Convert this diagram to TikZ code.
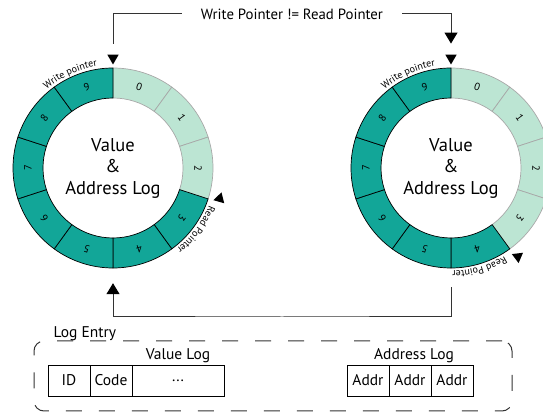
\documentclass[tikz,border=0pt]{standalone}
\usepackage{fontspec}
\setmainfont{PT Sans}
\usepackage{tikz}
\usetikzlibrary{positioning,arrows.meta,shapes.geometric,calc,decorations.text}
\definecolor{logteal}{HTML}{12A698}
\definecolor{logmint}{HTML}{BCE5D3}
\definecolor{logedge}{HTML}{A8A8A8}
\definecolor{logwire}{HTML}{333333}

\begin{document}
\begin{tikzpicture}[x=1pt,y=1pt,
  dark/.style={fill=logteal,draw=black,line width=0.7pt},
  lite/.style={fill=logmint,draw=logedge,line width=0.7pt},
  digit/.style={font=\fontsize{10.5}{10.5}\selectfont,inner sep=0pt},
  ring/.style={circle,minimum size=200pt,inner sep=0pt,align=center,font=\fontsize{18.5}{21.5}\selectfont},
  ptr/.style={regular polygon,regular polygon sides=3,fill=black,inner sep=0pt,minimum size=13pt},
  link/.style={draw=logwire,line width=1pt},
  tip/.style={-{Triangle[width=13pt,length=11pt,color=black]}},
  lbl/.style={font=\fontsize{15.5}{15.5}\selectfont,inner sep=1pt},
  cell/.style={draw=black,line width=0.8pt,minimum height=31pt,minimum width=42pt,inner sep=0pt,outer sep=0pt,font=\fontsize{15.5}{15.5}\selectfont},
  entry/.style={draw=logwire,line width=1pt,dash pattern=on 16pt off 17pt,rounded corners=10pt,minimum width=478pt,minimum height=70pt},
  arclbl/.style={decorate,decoration={text along path,text align=center,text={|\fontsize{10}{10}\selectfont|#1}}}
]
\useasboundingbox (0,0) rectangle (543,414);
\clip (0,0) rectangle (543,414);

\node[ring] (ringL) at (113,246) {Value\\\&\\Address Log};
\node[ring] (ringR) at (451,246) {Value\\\&\\Address Log};

\foreach \r/\n in {ringL/3,ringR/4}{
  \begin{scope}[shift={(\r.center)}]
    \foreach \i in {0,...,9}{
      \pgfmathsetmacro\a{90-36*\i}
      \pgfmathsetmacro\b{54-36*\i}
      \pgfmathsetmacro\m{72-36*\i}
      \ifnum\i<\n \def\seg{lite}\else\def\seg{dark}\fi
      \filldraw[\seg] (\a:70) -- (\a:100) arc[start angle=\a,end angle=\b,radius=100] -- (\b:70) arc[start angle=\b,end angle=\a,radius=70] -- cycle;
      \node[digit,rotate=\m-90] (\r\i) at (\m:85) {\i};
    }
  \end{scope}
}

\node[ptr,rotate=180] (wpL) at ([shift={(90:110)}]ringL.center) {};
\node[ptr,rotate=180] (wpR) at ([shift={(90:110)}]ringR.center) {};
\node[ptr,rotate=-16] (rpL) at ([shift={(-16:111)}]ringL.center) {};
\node[ptr,rotate=-53] (rpR) at ([shift={(-53:111)}]ringR.center) {};

\path[arclbl=Write pointer] ([shift={(134:103)}]ringL.center) arc[start angle=134,end angle=95,radius=103];
\path[arclbl=Write pointer] ([shift={(134:103)}]ringR.center) arc[start angle=134,end angle=95,radius=103];
\path[arclbl=Read Pointer] ([shift={(-17:103)}]ringL.center) arc[start angle=-17,end angle=-56,radius=103];
\path[arclbl=Read Pointer] ([shift={(-54:103)}]ringR.center) arc[start angle=-54,end angle=-94,radius=103];

\node[lbl,font=\fontsize{14.8}{14.8}\selectfont,minimum width=220pt,inner sep=0pt] (cond) at (292,400) {Write Pointer != Read Pointer};
\draw[link,shorten <=11pt] (wpL) |- (cond.west);
\draw[link,tip,shorten >=11pt] (cond.east) -| (wpR);

\coordinate (ret) at (282,97);
\draw[link,tip,shorten <=19pt,shorten >=15pt] (ringR) |- (ret) -| (ringL);

\node[entry] (entry) at (273,38) {};
\node[lbl,anchor=base west] (entrylbl) at ([xshift=19pt,yshift=3pt]entry.north west) {Log Entry};

\node[cell] (id) at (69,33.5) {ID};
\node[cell,right=0pt of id] (code) {Code};
\node[cell,right=0pt of code,minimum width=92pt] (dots) {...};
\node[lbl,above=1pt of dots] (vlog) {Value Log};

\node[cell] (addr1) at (368,33.5) {Addr};
\node[cell,right=0pt of addr1] (addr2) {Addr};
\node[cell,right=0pt of addr2] (addr3) {Addr};
\node[lbl,above=1pt of addr2,xshift=4pt] (alog) {Address Log};
\end{tikzpicture}
\end{document}
